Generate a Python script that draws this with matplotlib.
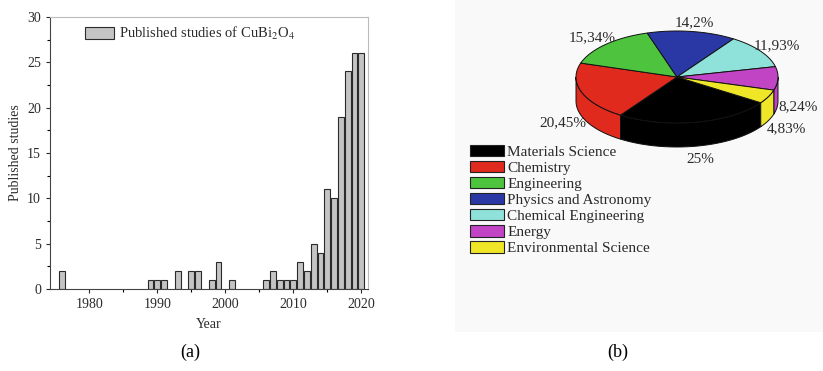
import numpy as np
import matplotlib
matplotlib.use("Agg")
import matplotlib.pyplot as plt
from matplotlib.patches import Polygon, Patch, Rectangle

plt.rcParams['font.family'] = ['Liberation Serif', 'DejaVu Serif']
plt.rcParams['mathtext.fontset'] = 'stix'

# ---- (a) yearly publication counts ----
years = [1976, 1989, 1990, 1991, 1993, 1995, 1996, 1998, 1999, 2001,
         2006, 2007, 2008, 2009, 2010, 2011, 2012, 2013, 2014, 2015,
         2016, 2017, 2018, 2019, 2020]
counts = [2, 1, 1, 1, 2, 2, 2, 1, 3, 1,
          1, 2, 1, 1, 1, 3, 2, 5, 4, 11,
          10, 19, 24, 26, 26]
bar_label = "Published studies of CuBi$_{2}$O$_{4}$"

# ---- (b) subject areas ----
areas = ["Materials Science", "Chemistry", "Engineering", "Physics and Astronomy",
         "Chemical Engineering", "Energy", "Environmental Science"]
shares = [25, 20.45, 15.34, 14.2, 11.93, 8.24, 4.83]
share_labels = ["25%", "20,45%", "15,34%", "14,2%", "11,93%", "8,24%", "4,83%"]
area_colors = ["#000000", "#e02a1e", "#4ec43e", "#2a38a6", "#8fe2da", "#c044c4", "#f0e628"]

W, H = 823, 371
fig = plt.figure(figsize=(W / 100, H / 100), dpi=100)
txt = "#2a2a2a"

# ---------- bar chart ----------
ax = fig.add_axes([50 / W, 1 - 289 / H, 318 / W, 272 / H])
ax.bar(years, counts, width=0.85, color="#c4c4c4", edgecolor="#2a2a2a",
       linewidth=0.8, label=bar_label)
ax.set_xlim(1974.2, 2021)
ax.set_ylim(0, 30)
ax.set_xticks([1980, 1990, 2000, 2010, 2020])
ax.set_xticks([1985, 1995, 2005, 2015], minor=True)
ax.set_yticks(range(0, 31, 5))
ax.set_yticks(np.arange(2.5, 30, 5), minor=True)
ax.tick_params(axis='both', which='major', direction='out', length=3,
               labelsize=10, colors=txt, width=0.8)
ax.tick_params(axis='both', which='minor', direction='out', length=2, width=0.8)
for side in ['top', 'right']:
    ax.spines[side].set_color("#bbbbbb")
for side in ['left', 'bottom']:
    ax.spines[side].set_color("#444444")
ax.set_xlabel("Year", fontsize=10, color=txt, labelpad=5)
ax.set_ylabel("Published studies", fontsize=10, color=txt, labelpad=4)
leg = ax.legend(loc="upper left", bbox_to_anchor=(0.085, 1.0), frameon=False,
                fontsize=10.5, handlelength=2.0, handleheight=0.9, handletextpad=0.3,
                borderaxespad=0.15)
for t in leg.get_texts():
    t.set_color(txt)

# ---------- 3D pie chart, drawn in pixel coordinates ----------
ov = fig.add_axes([0, 0, 1, 1])
ov.set_xlim(0, W)
ov.set_ylim(H, 0)
ov.axis("off")
ov.patch.set_visible(False)
ov.add_patch(Rectangle((455, 0), W - 455, 332, facecolor="#f9f9f9",
                       edgecolor="none", zorder=0))

cx, cy, rx, ry, depth = 677, 77, 101, 46, 24
start = -34.0  # degrees, wedges run clockwise
fr = np.array(shares) / np.sum(shares)
bounds = start - 360 * np.concatenate([[0], np.cumsum(fr)])


def rim(a0, a1, n=80):
    t = np.radians(np.linspace(a0, a1, n))
    return cx + rx * np.cos(t), cy - ry * np.sin(t)


# side walls (front half only)
walls = []
for i in range(len(shares)):
    a_hi, a_lo = bounds[i], bounds[i + 1]
    for off in (0, -360, 360):
        lo = max(a_lo + off, -180)
        hi = min(a_hi + off, 0)
        if hi > lo:
            walls.append((i, lo, hi))
for i, lo, hi in walls:
    x, y = rim(lo, hi)
    pts = np.column_stack([np.concatenate([x, x[::-1]]),
                           np.concatenate([y, y[::-1] + depth])])
    ov.add_patch(Polygon(pts, closed=True, facecolor=area_colors[i],
                         edgecolor="#111111", linewidth=0.7, zorder=2))

# top faces
for i in range(len(shares)):
    x, y = rim(bounds[i + 1], bounds[i])
    pts = np.column_stack([np.concatenate([[cx], x]), np.concatenate([[cy], y])])
    ov.add_patch(Polygon(pts, closed=True, facecolor=area_colors[i],
                         edgecolor="#111111", linewidth=0.7, zorder=3))

# percentage labels; those on the front half sit below the side wall
for i, lab in enumerate(share_labels):
    mid = np.radians((bounds[i] + bounds[i + 1]) / 2)
    lx = cx + 1.2 * rx * np.cos(mid)
    ly = cy - 1.2 * ry * np.sin(mid)
    if np.sin(mid) < 0:
        ly += depth + 4
    ov.text(lx, ly, lab, ha="center", va="center", fontsize=11,
            color=txt, zorder=4)

handles = [Patch(facecolor=c, edgecolor="#222222", linewidth=0.8) for c in area_colors]
pleg = ov.legend(handles, areas, loc="upper left", bbox_to_anchor=(470 / W, 1 - 145 / H),
                 bbox_transform=fig.transFigure, frameon=False, fontsize=11,
                 handlelength=2.2, handleheight=0.75, handletextpad=0.25,
                 labelspacing=0.14, borderaxespad=0, borderpad=0)
for t in pleg.get_texts():
    t.set_color(txt)

# panel captions
fig.text(190 / W, 1 - 352 / H, "(a)", ha="center", va="center", fontsize=13)
fig.text(618 / W, 1 - 352 / H, "(b)", ha="center", va="center", fontsize=13)

fig.savefig("out.png", dpi=100)
